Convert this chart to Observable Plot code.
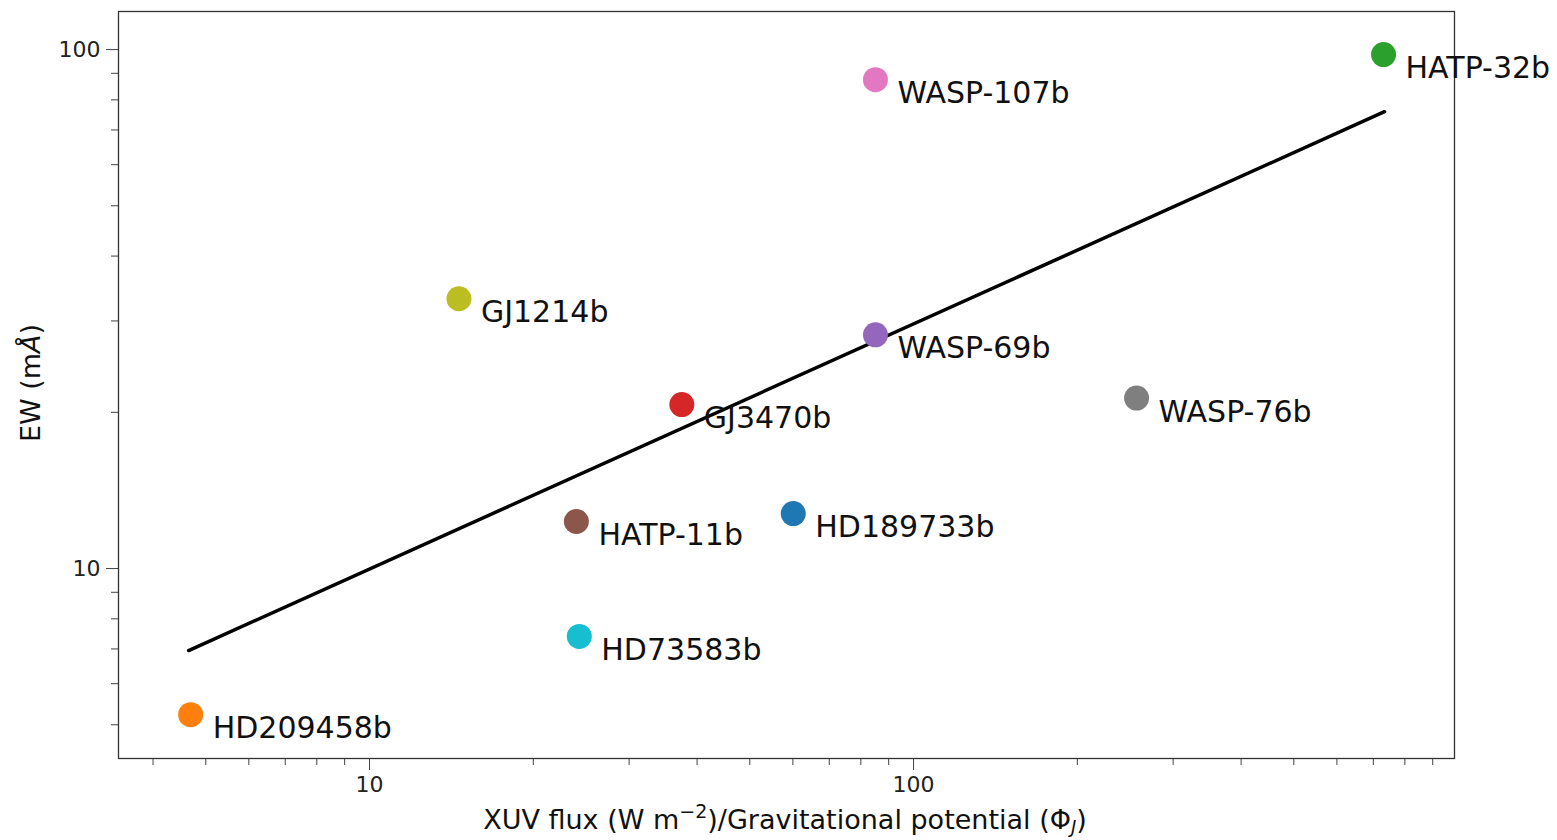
<!DOCTYPE html>
<html>
<head>
<meta charset="utf-8">
<script src="https://cdn.jsdelivr.net/npm/d3@7"></script>
<script src="https://cdn.jsdelivr.net/npm/@observablehq/plot@0.6"></script>
<style>
  html, body { margin: 0; padding: 0; background: #fff; }
  #chart svg { display: block; font-family: "DejaVu Sans", sans-serif; }
</style>
</head>
<body>
<div id="chart"></div>
<script>
// ---- data ----
const planets = ["HD189733b", "HD209458b", "HATP-32b", "GJ3470b", "WASP-69b", "HATP-11b", "WASP-107b", "WASP-76b", "GJ1214b", "HD73583b"];
const xuvRatio = [60.1, 4.69, 731, 37.5, 85.1, 24.0, 85.1, 257, 14.6, 24.3];
const ew = [12.76, 5.23, 97.8, 20.7, 28.2, 12.32, 87.5, 21.3, 33.1, 7.40];
const colors = ["#1f77b4", "#ff7f0e", "#2ca02c", "#d62728", "#9467bd", "#8c564b", "#e377c2", "#7f7f7f", "#bcbd22", "#17becf"];
const fitX = [4.65, 734];
const fitY = [6.95, 75.9];
const xMajor = [10, 100];
const xMinor = [4, 5, 6, 7, 8, 9, 20, 30, 40, 50, 60, 70, 80, 90, 200, 300, 400, 500, 600, 700, 800, 900];
const yMajor = [10, 100];
const yMinor = [5, 6, 7, 8, 9, 20, 30, 40, 50, 60, 70, 80, 90];

const pts = planets.map((name, i) => ({name, x: xuvRatio[i], y: ew[i], c: colors[i]}));
const fit = fitX.map((x, i) => ({x, y: fitY[i]}));

const W = 1557, H = 840;
const chart = Plot.plot({
  width: W,
  height: H,
  marginLeft: 118,
  marginRight: 103,
  marginTop: 11,
  marginBottom: 82,
  style: {fontFamily: "DejaVu Sans, sans-serif", background: "#fff", color: "#222"},
  x: {type: "log", domain: [3.456, 987]},
  y: {type: "log", domain: [4.305, 118.4]},
  marks: [
    Plot.axisX(xMinor, {tickSize: 7, text: null, stroke: "#444", label: null}),
    Plot.axisX(xMajor, {tickSize: 12, tickFormat: d => String(d), fontSize: 22, tickPadding: 6, stroke: "#444", fill: "#222", label: null}),
    Plot.axisY(yMinor, {tickSize: 7, text: null, stroke: "#444", label: null}),
    Plot.axisY(yMajor, {tickSize: 12, tickFormat: d => String(d), fontSize: 22, tickPadding: 6, stroke: "#444", fill: "#222", label: null}),
    Plot.frame({stroke: "#333", strokeWidth: 1.3}),
    Plot.line(fit, {x: "x", y: "y", stroke: "#000", strokeWidth: 3.5}),
    Plot.dot(pts, {x: "x", y: "y", r: 12.5, fill: "c", stroke: "none"}),
    Plot.text(pts, {x: "x", y: "y", text: "name", dx: 22, dy: 14, textAnchor: "start", fontSize: 30, fill: "#111"})
  ]
});
document.getElementById("chart").appendChild(chart);

// axis titles with super/subscripts
const svg = d3.select(chart);
const xl = svg.append("text")
  .attr("x", 785).attr("y", 829)
  .attr("text-anchor", "middle")
  .attr("font-size", 27).attr("fill", "#111");
xl.append("tspan").text("XUV flux (W m");
xl.append("tspan").attr("dy", -11).attr("font-size", 19).text("−2");
xl.append("tspan").attr("dy", 11).text(")/Gravitational potential (Φ");
xl.append("tspan").attr("dy", 4).attr("font-size", 18).attr("font-style", "italic").text("J");
xl.append("tspan").attr("dy", -4).text(")");

const yl = svg.append("text")
  .attr("transform", "translate(40,383) rotate(-90)")
  .attr("text-anchor", "middle")
  .attr("font-size", 27).attr("fill", "#111");
yl.append("tspan").text("EW (m");
yl.append("tspan").attr("font-style", "italic").text("Å");
yl.append("tspan").text(")");
</script>
</body>
</html>
